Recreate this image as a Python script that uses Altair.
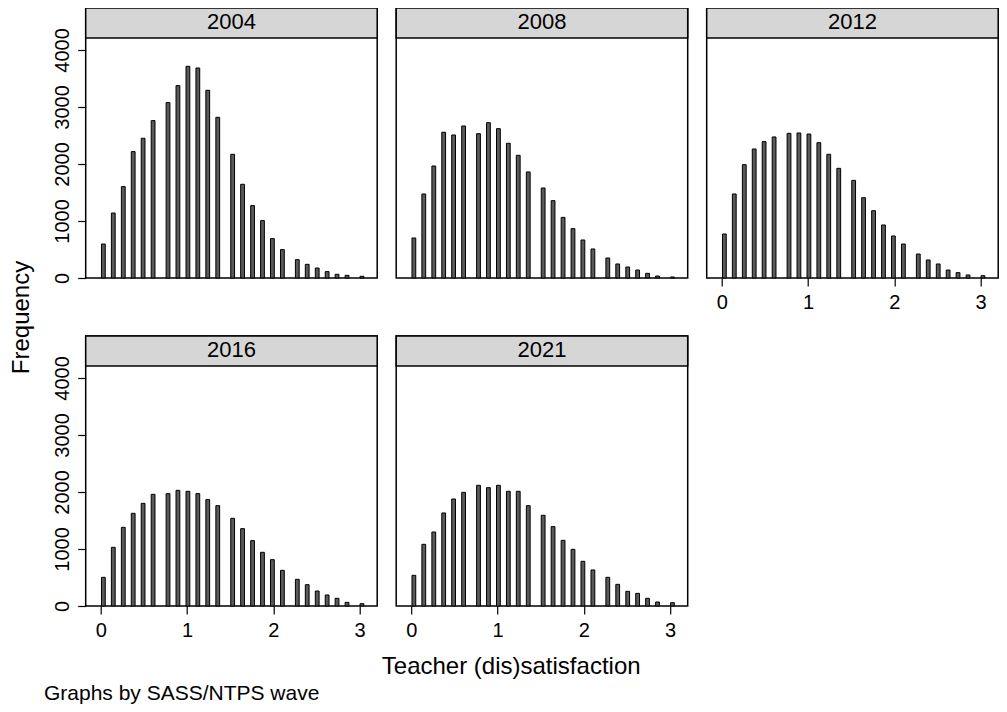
import altair as alt
import pandas as pd

# ---- data ----
years = ["2004", "2008", "2012", "2016", "2021"]

# bar (bin) centres on the satisfaction scale
centers = [0.029, 0.144, 0.260, 0.375, 0.490, 0.606, 0.779, 0.894, 1.010,
           1.125, 1.240, 1.356, 1.529, 1.644, 1.760, 1.875, 1.990, 2.106,
           2.279, 2.394, 2.510, 2.625, 2.740, 2.856, 3.029]

f2004 = [596, 1140, 1603, 2217, 2451, 2761, 3077, 3375, 3714, 3684, 3293, 2819,
         2170, 1644, 1270, 1007, 691, 498, 322, 240, 175, 112, 65, 47, 30]
f2008 = [702, 1474, 1965, 2556, 2509, 2667, 2532, 2725, 2620, 2363, 2152, 1860,
         1579, 1357, 1064, 866, 667, 509, 351, 246, 193, 140, 82, 35, 18]
f2012 = [772, 1474, 1988, 2263, 2392, 2474, 2538, 2544, 2526, 2374, 2170, 1924,
         1713, 1409, 1181, 930, 737, 596, 421, 316, 246, 140, 94, 53, 41]
f2016 = [503, 1029, 1380, 1626, 1801, 1959, 1971, 2029, 2012, 1971, 1866, 1760,
         1538, 1357, 1146, 942, 813, 626, 468, 374, 263, 193, 135, 64, 41]
f2021 = [538, 1082, 1298, 1632, 1877, 1994, 2117, 2076, 2117, 2012, 2012, 1760,
         1591, 1392, 1152, 994, 784, 632, 503, 380, 257, 222, 135, 70, 58]

freqs = {"2004": f2004, "2008": f2008, "2012": f2012, "2016": f2016, "2021": f2021}

y_ticks = [0, 1000, 2000, 3000, 4000]
x_ticks = [0, 1, 2, 3]

# ---- styling / layout ----
FONT = "Liberation Sans"
BIN_HALF = 0.022
X_DOMAIN = [-0.176, 3.206]
Y_TOP = 4210
W, PLOT_H, HEAD_H = 291.5, 240, 30
H = PLOT_H + HEAD_H


def panel(year, show_y=False, show_x=False, y_title=False, x_title=False):
    df = pd.DataFrame({
        "lo": [c - BIN_HALF for c in centers],
        "hi": [c + BIN_HALF for c in centers],
        "freq": freqs[year],
    })
    if show_x:
        xkw = dict(values=x_ticks, format="d", labelFontSize=20, labelPadding=6,
                   tickSize=8, tickWidth=1.2, domain=False, grid=False, labelAngle=0)
        if x_title:
            xkw.update(titleFontSize=24, titleX=425, titleY=67, titleAlign="center",
                       titleBaseline="alphabetic", titleAngle=0)
        xaxis = alt.Axis(**xkw)
    else:
        xaxis = None
    if show_y:
        ykw = dict(values=y_ticks, format="d", labelFontSize=20, labelAngle=270,
                   labelAlign="center", labelBaseline="alphabetic", labelPadding=9,
                   tickSize=8, tickWidth=1.2, domain=False, grid=False)
        if y_title:
            ykw.update(titleFontSize=24, titleAngle=270, titleX=-57, titleY=309,
                       titleAlign="center", titleBaseline="alphabetic")
        yaxis = alt.Axis(**ykw)
    else:
        yaxis = None

    bars = alt.Chart(df).mark_bar(fill="#5a5a5a", stroke="black", strokeWidth=1).encode(
        x=alt.X("lo:Q", scale=alt.Scale(domain=X_DOMAIN, nice=False, zero=False),
                axis=xaxis, title="Teacher (dis)satisfaction" if x_title else None),
        x2="hi:Q",
        y=alt.Y("freq:Q", scale=alt.Scale(domain=[0, Y_TOP], range=[H, HEAD_H], nice=False),
                axis=yaxis, title="Frequency" if y_title else None),
        y2=alt.datum(0),
    )
    lab = pd.DataFrame({"label": [year]})
    head = alt.Chart(lab).mark_rect(fill="#d6d6d6", stroke="black", strokeWidth=1.5).encode(
        x=alt.value(0), x2=alt.value(W), y=alt.value(0), y2=alt.value(HEAD_H))
    txt = alt.Chart(lab).mark_text(font=FONT, fontSize=22, baseline="alphabetic",
                                   align="center", color="black").encode(
        x=alt.value(W / 2), y=alt.value(21.3), text="label:N")
    return alt.layer(bars, head, txt).properties(width=W, height=H)


panels = [
    panel("2004", show_y=True, y_title=True),
    panel("2008"),
    panel("2012", show_x=True),
    panel("2016", show_y=True, show_x=True, x_title=True),
    panel("2021", show_x=True),
]

chart = alt.concat(*panels, columns=3, spacing={"row": 58, "column": 18.5},
                   bounds="flush").properties(
    title=alt.TitleParams("Graphs by SASS/NTPS wave", orient="bottom", anchor="start",
                          font=FONT, fontSize=21, fontWeight="normal", color="black",
                          offset=4.5, dx=35),
    autosize=alt.AutoSizeParams(type="none"),
    padding={"left": 77.7, "top": 0, "right": 913.3, "bottom": 696},
).configure_view(stroke="black", strokeWidth=1.5).configure_axis(
    labelFont=FONT, titleFont=FONT, labelColor="black", titleColor="black",
    tickColor="black", titleFontWeight="normal")

chart.save("out.html", embed_options={"renderer": "svg", "actions": False})
